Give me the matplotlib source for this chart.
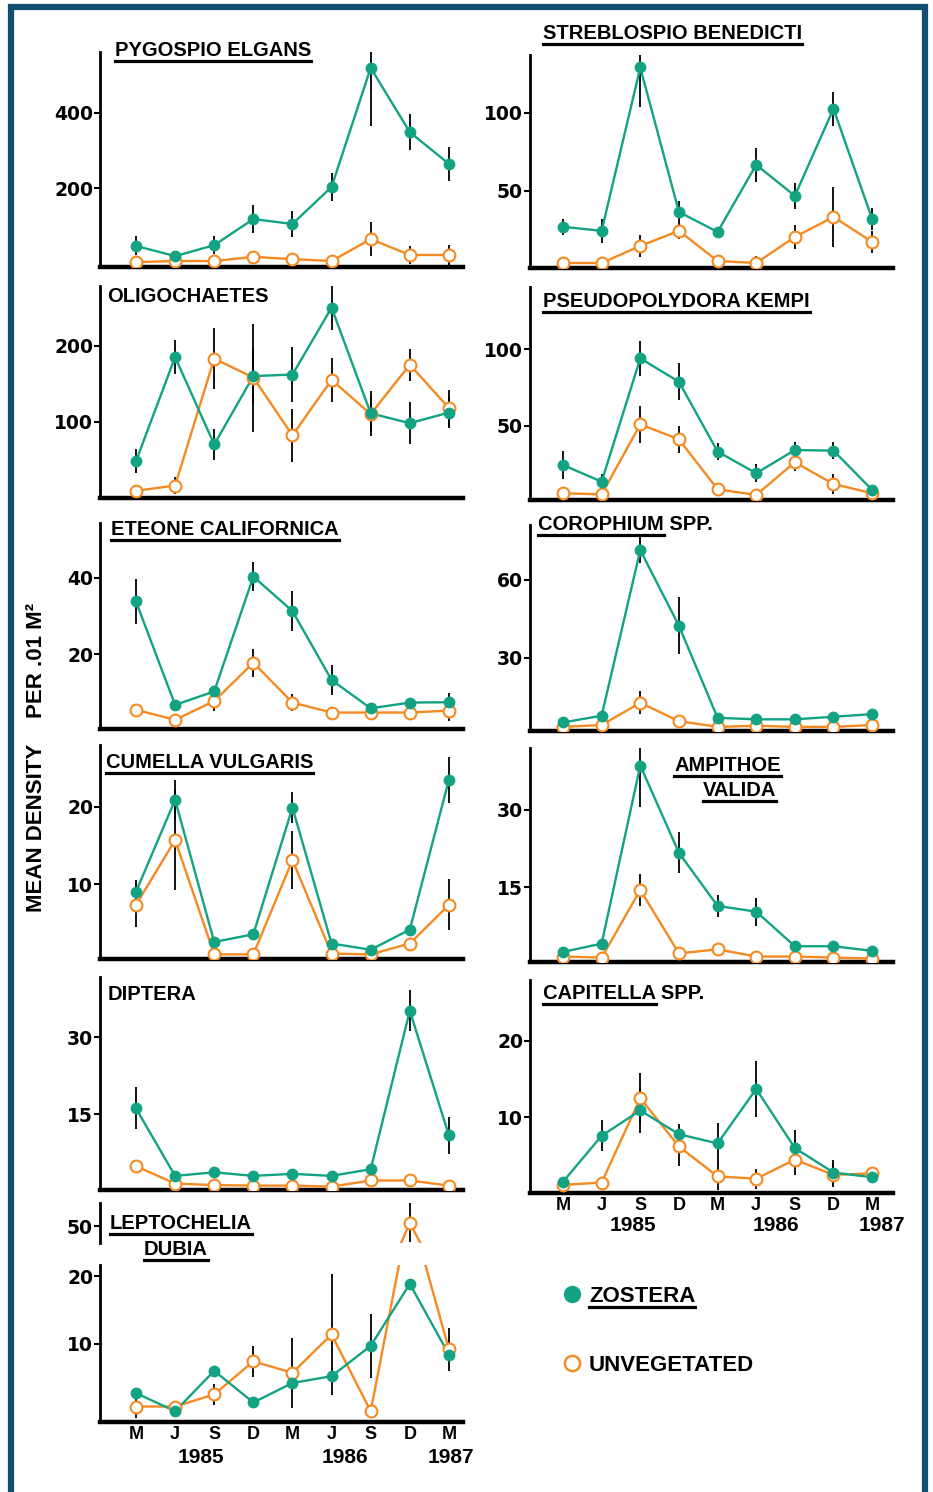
import matplotlib
matplotlib.use('Agg')
import matplotlib.pyplot as plt
from matplotlib.lines import Line2D
from matplotlib.patches import Rectangle
import numpy as np

W, H = 933, 1492
GREEN = '#13a383'
ORANGE = '#f58a22'
FRAME = '#0f4e70'

plt.rcParams['font.family'] = ['Liberation Sans', 'DejaVu Sans']
plt.rcParams['font.weight'] = 'bold'

months = ['M', 'J', 'S', 'D', 'M', 'J', 'S', 'D', 'M']
years = ['1985', '1986', '1987']
x = np.arange(len(months))

# zostera (z) / unvegetated (u) means, *_err = half length of the bar
pygospio_z = [48, 21, 50, 119, 106, 204, 519, 349, 265]
pygospio_z_err = [25, 0, 23, 36, 35, 37, 154, 47, 45]
pygospio_u = [5, 8, 8, 19, 13, 8, 66, 24, 24]
pygospio_u_err = [0, 0, 0, 0, 0, 0, 46, 24, 27]

streblo_z = [27, 24.4, 129, 36.5, 23.7, 66.7, 46.8, 102.6, 32]
streblo_z_err = [5, 7.5, 25, 7, 0, 11, 8.5, 11, 7]
streblo_u = [3.8, 3.8, 14.7, 24.4, 5.1, 3.8, 20.5, 33.3, 17.3]
streblo_u_err = [0, 0, 7, 5, 0, 4.5, 7.5, 19, 7]

oligo_z = [48, 185, 70, 160, 162, 250, 111, 98, 112]
oligo_z_err = [16, 22, 20, 35, 36, 30, 30, 28, 20]
oligo_u = [9, 16, 183, 158, 82, 155, 110, 175, 118]
oligo_u_err = [0, 11, 40, 71, 35, 29, 23, 21, 24]

pseudo_z = [24.2, 13.3, 94, 78.7, 33, 18.8, 34, 33.6, 7.9]
pseudo_z_err = [9, 5, 11.5, 12, 5.7, 6, 5, 5.5, 0]
pseudo_u = [5.7, 5, 50.8, 41, 8.3, 4.6, 26, 11.8, 5.7]
pseudo_u_err = [0, 0, 12, 9, 0, 0, 6, 6.5, 0]

eteone_z = [33.8, 6.8, 10.3, 40.3, 31.3, 13.3, 5.9, 7.4, 7.5]
eteone_z_err = [5.9, 0, 1, 3.7, 5.2, 4, 0, 0, 2.4]
eteone_u = [5.5, 2.9, 7.8, 17.8, 7.4, 4.8, 4.8, 4.8, 5.3]
eteone_u_err = [0, 0, 2.6, 3.7, 2.3, 0, 0, 0, 2.7]

coroph_z = [5, 7.6, 71.5, 42.3, 6.8, 6.2, 6.2, 7.2, 8.2]
coroph_z_err = [0, 0, 4.9, 11, 0, 0, 0, 0, 0]
coroph_u = [3.3, 4, 12.6, 5.5, 3.3, 3.7, 3.3, 3.3, 4]
coroph_u_err = [0, 0, 4.5, 0, 0, 0, 0, 0, 0]

cumella_z = [9, 20.9, 2.5, 3.5, 19.9, 2.3, 1.5, 4.1, 23.5]
cumella_z_err = [1.5, 2.6, 0, 0, 2, 0, 0, 0, 3]
cumella_u = [7.3, 15.7, 0.9, 0.9, 13.1, 1, 0.9, 2.3, 7.3]
cumella_u_err = [2.8, 6.5, 0, 0, 3.8, 0, 0, 0, 3.3]

ampithoe_z = [2.5, 4.1, 38.6, 21.7, 11.4, 10.3, 3.6, 3.6, 2.7]
ampithoe_z_err = [0, 0, 8, 4, 2.2, 2.7, 0, 0, 0]
ampithoe_u = [1.6, 1.4, 14.5, 2.2, 3, 1.6, 1.6, 1.4, 1.2]
ampithoe_u_err = [0, 0, 3.1, 0, 0, 0, 0, 0, 0]

diptera_z = [16.1, 2.9, 3.6, 2.9, 3.3, 2.9, 4.2, 35.2, 10.8]
diptera_z_err = [4.1, 0, 0, 0, 0, 0, 0, 4, 3.7]
diptera_u = [4.8, 1.4, 1.1, 1, 1, 0.8, 2, 2, 1]
diptera_u_err = [0, 0, 0, 0, 0, 0, 0, 0, 0]

capitella_z = [1.6, 7.6, 10.9, 7.8, 6.6, 13.7, 6, 2.8, 2.2]
capitella_z_err = [0, 2, 3, 1.3, 2.7, 3.6, 2.3, 1.7, 0]
capitella_u = [1.2, 1.5, 12.5, 6.2, 2.3, 2, 4.5, 2.5, 2.7]
capitella_u_err = [0, 0, 3.3, 2.6, 1.8, 1.3, 2, 1.6, 0]

lepto_z = [2.7, 0, 6, 1.3, 4.2, 5.2, 9.7, 18.9, 8.4]
lepto_z_err = [0, 0, 0, 0, 0, 0, 4.8, 0, 0]
lepto_u = [0.7, 0.7, 2.5, 7.4, 5.7, 11.4, 0, 52, 9.2]
lepto_u_err = [1.7, 0, 1.5, 2.3, 5.2, 9, 0, 11, 3.2]
lepto_break = 30  # where the broken orange line leaves the lower axis

fig = plt.figure(figsize=(W / 100, H / 100), dpi=100)

COLS = {'L': (100, 463, (-0.92, 8.36)), 'R': (530, 893, (-0.854, 8.54))}
NUM = dict(family='DejaVu Sans', size=13.5, weight='bold')


def make_axes(col, top, bottom, ylim, yticks, spine_bottom=True):
    x0, x1, xlim = COLS[col]
    ax = fig.add_axes([x0 / W, 1 - bottom / H, (x1 - x0) / W, (bottom - top) / H])
    ax.set_xlim(*xlim)
    ax.set_ylim(*ylim)
    ax.patch.set_alpha(0)
    for s in ('top', 'right'):
        ax.spines[s].set_visible(False)
    ax.spines['left'].set_linewidth(2)
    ax.spines['bottom'].set_linewidth(3.2)
    ax.spines['bottom'].set_visible(spine_bottom)
    ax.set_yticks(yticks)
    ax.set_yticklabels([str(t) for t in yticks], fontdict=NUM)
    ax.tick_params(axis='y', length=4, width=1.5, pad=1)
    ax.set_xticks([])
    return ax


def draw_series(ax, z, z_err, u, u_err, u_line=None, u_mask=None):
    ax.errorbar(x, u, yerr=u_err, fmt='none', ecolor='black', elinewidth=1.3, zorder=2)
    ax.errorbar(x, z, yerr=z_err, fmt='none', ecolor='black', elinewidth=1.3, zorder=2)
    ax.plot(x, u if u_line is None else u_line, color=ORANGE, lw=1.7, zorder=3)
    ax.plot(x, z, color=GREEN, lw=1.7, zorder=4)
    ux, uy = x, np.array(u, dtype=float)
    if u_mask is not None:
        ux, uy = x[u_mask], uy[u_mask]
    ax.plot(ux, uy, 'o', ms=8.5, mfc='white', mec=ORANGE, mew=1.5, ls='none', zorder=5)
    ax.plot(x, z, 'o', ms=7.5, color=GREEN, ls='none', zorder=6)


panels = [
    ('L', 52, 266.7, (-7, 561), [200, 400], pygospio_z, pygospio_z_err, pygospio_u, pygospio_u_err),
    ('R', 55, 268, (0.6, 137), [50, 100], streblo_z, streblo_z_err, streblo_u, streblo_u_err),
    ('L', 286, 498.3, (-0.8, 278.5), [100, 200], oligo_z, oligo_z_err, oligo_u, oligo_u_err),
    ('R', 287, 500, (1.3, 140.7), [50, 100], pseudo_z, pseudo_z_err, pseudo_u, pseudo_u_err),
    ('L', 523, 729, (0.5, 54.3), [20, 40], eteone_z, eteone_z_err, eteone_u, eteone_u_err),
    ('R', 525, 731, (1.7, 81.2), [30, 60], coroph_z, coroph_z_err, coroph_u, coroph_u_err),
    ('L', 745, 959.3, (0.26, 28), [10, 20], cumella_z, cumella_z_err, cumella_u, cumella_u_err),
    ('R', 748, 961.7, (0.6, 42), [15, 30], ampithoe_z, ampithoe_z_err, ampithoe_u, ampithoe_u_err),
    ('L', 977, 1190, (0.14, 41.8), [15, 30], diptera_z, diptera_z_err, diptera_u, diptera_u_err),
    ('R', 980, 1193.3, (0.1, 27.9), [10, 20], capitella_z, capitella_z_err, capitella_u, capitella_u_err),
]

axes = []
for col, top, bottom, ylim, yt, z, ze, u, ue in panels:
    ax = make_axes(col, top, bottom, ylim, yt)
    draw_series(ax, z, ze, u, ue)
    axes.append(ax)

# Leptochelia: broken axis
ax_lo = make_axes('L', 1265, 1421.7, (-1.55, 21.7), [10, 20])
u_line = list(lepto_u)
u_line[7] = lepto_break
mask = np.array(lepto_u) < ax_lo.get_ylim()[1]
lo_err = [e if v < 21.7 else 0 for v, e in zip(lepto_u, lepto_u_err)]
draw_series(ax_lo, lepto_z, lepto_z_err, lepto_u, lo_err, u_line=u_line, u_mask=mask)

ax_hi = make_axes('L', 1203, 1243, (40.5, 63.1), [50], spine_bottom=False)
ax_hi.errorbar(x[~mask], np.array(lepto_u)[~mask], yerr=np.array(lepto_u_err)[~mask],
               fmt='none', ecolor='black', elinewidth=1.3, zorder=2)
ax_hi.plot(x, lepto_u, color=ORANGE, lw=1.7, zorder=3)
ax_hi.plot(x[~mask], np.array(lepto_u)[~mask], 'o', ms=8.5, mfc='white', mec=ORANGE,
           mew=1.5, zorder=5)


def month_axis(ax, year_pos, year_drop):
    ax.set_xticks(x)
    ax.set_xticklabels(months, fontsize=13, fontweight='bold')
    ax.tick_params(axis='x', length=0, pad=3)
    for xp, yr in zip(year_pos, years):
        ax.annotate(yr, xy=(xp, 0), xycoords=ax.get_xaxis_transform(),
                    xytext=(0, -year_drop * 0.72), textcoords='offset points',
                    ha='center', va='center', fontsize=15, fontweight='bold')


month_axis(ax_lo, [1.66, 5.35, 8.05], 35.5)
month_axis(axes[-1], [1.81, 5.5, 8.26], 32)

# titles: (x px, y centre px, text, underlined part, ha)
titles = [
    (115, 49, 'PYGOSPIO ELGANS', 'all', 'left'),
    (543, 32, 'STREBLOSPIO BENEDICTI', 'all', 'left'),
    (107, 295, 'OLIGOCHAETES', None, 'left'),
    (543, 300, 'PSEUDOPOLYDORA KEMPI', 'all', 'left'),
    (111, 528, 'ETEONE CALIFORNICA', 'all', 'left'),
    (538, 523, 'COROPHIUM SPP.', 'COROPHIUM', 'left'),
    (106, 761, 'CUMELLA VULGARIS', 'all', 'left'),
    (781, 764, 'AMPITHOE', 'all', 'right'),
    (776, 789, 'VALIDA', 'all', 'right'),
    (108, 993, 'DIPTERA', None, 'left'),
    (543, 992, 'CAPITELLA SPP.', 'CAPITELLA', 'left'),
    (110, 1222, 'LEPTOCHELIA', 'all', 'left'),
    (144, 1248, 'DUBIA', 'all', 'left'),
]
TITLE = dict(fontsize=14.5, fontweight='bold', family='Liberation Sans')

under = []
for xp, yp, txt, part, ha in titles:
    t = fig.text(xp / W, 1 - (yp + 7) / H, txt, ha=ha, va='baseline', **TITLE)
    if part:
        under.append((t, part, yp + 12, TITLE))

# legend
LEG = dict(fontsize=16, fontweight='bold', family='Liberation Sans')
fig.add_artist(Line2D([572 / W], [1 - 1294 / H], marker='o', ms=11.5, color=GREEN,
                      transform=fig.transFigure))
fig.add_artist(Line2D([572 / W], [1 - 1363 / H], marker='o', ms=11, mfc='white', mec=ORANGE,
                      mew=1.8, transform=fig.transFigure))
tz = fig.text(589 / W, 1 - 1302 / H, 'ZOSTERA', va='baseline', **LEG)
fig.text(589 / W, 1 - 1371 / H, 'UNVEGETATED', va='baseline', **LEG)
under.append((tz, 'all', 1307, LEG))

# y label
fig.text(37 / W, 1 - 828 / H, 'MEAN DENSITY', rotation=90, ha='center', va='center',
         fontsize=16, fontweight='bold', family='Liberation Sans')
fig.text(37 / W, 1 - 660 / H, 'PER .01 M²', rotation=90, ha='center', va='center',
         fontsize=16, fontweight='bold', family='Liberation Sans')

# frame
fig.add_artist(Rectangle((11 / W, -0.02), (925 - 11) / W, 1 + 0.02 - 7 / H, fill=False,
                         lw=4.5, edgecolor=FRAME, transform=fig.transFigure))

fig.canvas.draw()
r = fig.canvas.get_renderer()
for t, part, yline, props in under:
    bb = t.get_window_extent(r)
    x0, x1 = bb.x0, bb.x1
    if part != 'all':
        tmp = fig.text(0, 0, part, **props)
        x1 = x0 + tmp.get_window_extent(r).width
        tmp.remove()
    fig.add_artist(Line2D([x0 / W, x1 / W], [1 - yline / H] * 2, lw=2.3, color='black',
                          transform=fig.transFigure))

fig.savefig('out.png', dpi=100)
